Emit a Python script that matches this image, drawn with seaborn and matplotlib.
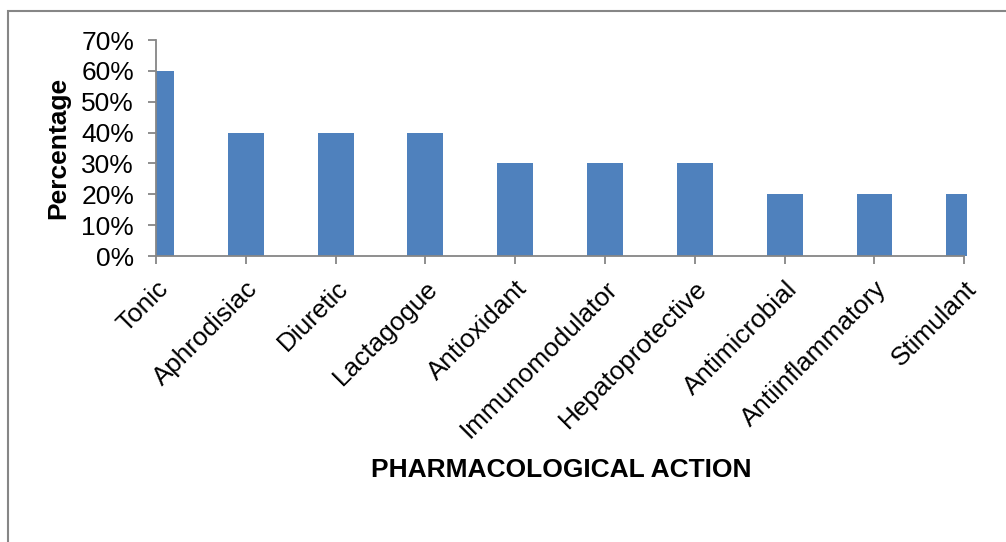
import matplotlib
matplotlib.use("Agg")
import matplotlib.pyplot as plt
import seaborn as sns
import pandas as pd
from matplotlib.patches import Rectangle
from matplotlib.ticker import FuncFormatter

categories = ["Tonic", "Aphrodisiac", "Diuretic", "Lactagogue", "Antioxidant",
              "Immunomodulator", "Hepatoprotective", "Antimicrobial",
              "Antiinflammatory", "Stimulant"]
values = [60, 40, 40, 40, 30, 30, 30, 20, 20, 20]
yticks = [0, 10, 20, 30, 40, 50, 60, 70]

sns.set_theme(style="white")
plt.rcParams['font.family'] = ['Liberation Sans', 'DejaVu Sans']
plt.rcParams['text.color'] = 'black'

W, H = 1006, 542
fig = plt.figure(figsize=(W / 100, H / 100), dpi=100)
ax = fig.add_axes([156 / W, 1 - 256 / H, (967 - 156) / W, (256 - 40) / H])

df = pd.DataFrame({"cat": categories, "val": values})
sns.barplot(data=df, x="cat", y="val", color="#4F81BD", width=0.4,
            saturation=1, ax=ax, edgecolor="none")

ax.set_xlim(0, len(categories) - 1 + 0.03)
ax.set_ylim(0, 70)
ax.set_yticks(yticks)
ax.yaxis.set_major_formatter(FuncFormatter(lambda v, p: f"{int(v)}%"))

gray = "#868686"
for s in ["top", "right"]:
    ax.spines[s].set_visible(False)
for s in ["left", "bottom"]:
    ax.spines[s].set_color(gray)
    ax.spines[s].set_linewidth(1.3)
ax.spines["bottom"].set_bounds(0, len(categories) - 1)

ax.tick_params(axis="both", which="major", direction="out", length=5.8, width=1.3,
               color=gray, labelsize=19, labelcolor="black")
ax.tick_params(axis="y", left=True, pad=10)
ax.tick_params(axis="x", bottom=True, pad=9)
ax.set_xticks(range(len(categories)))
ax.set_xticklabels(categories, rotation=45, ha="right", va="top",
                   rotation_mode="anchor", fontsize=18.8)

ax.set_ylabel("Percentage", fontsize=19, fontweight="bold", color="black")
ax.yaxis.set_label_coords((70 - 156) / (967 - 156), 0.5)
ax.set_xlabel("")
fig.text(561 / W, 1 - 470 / H, "PHARMACOLOGICAL ACTION", fontsize=19,
         fontweight="bold", ha="center", va="center", color="black")

fig.patches.append(Rectangle((8 / W, -0.1), 1.2, 1 - 11 / H + 0.1,
                             transform=fig.transFigure, fill=False,
                             edgecolor=gray, linewidth=1.5))

fig.savefig("out.png", dpi=100)
